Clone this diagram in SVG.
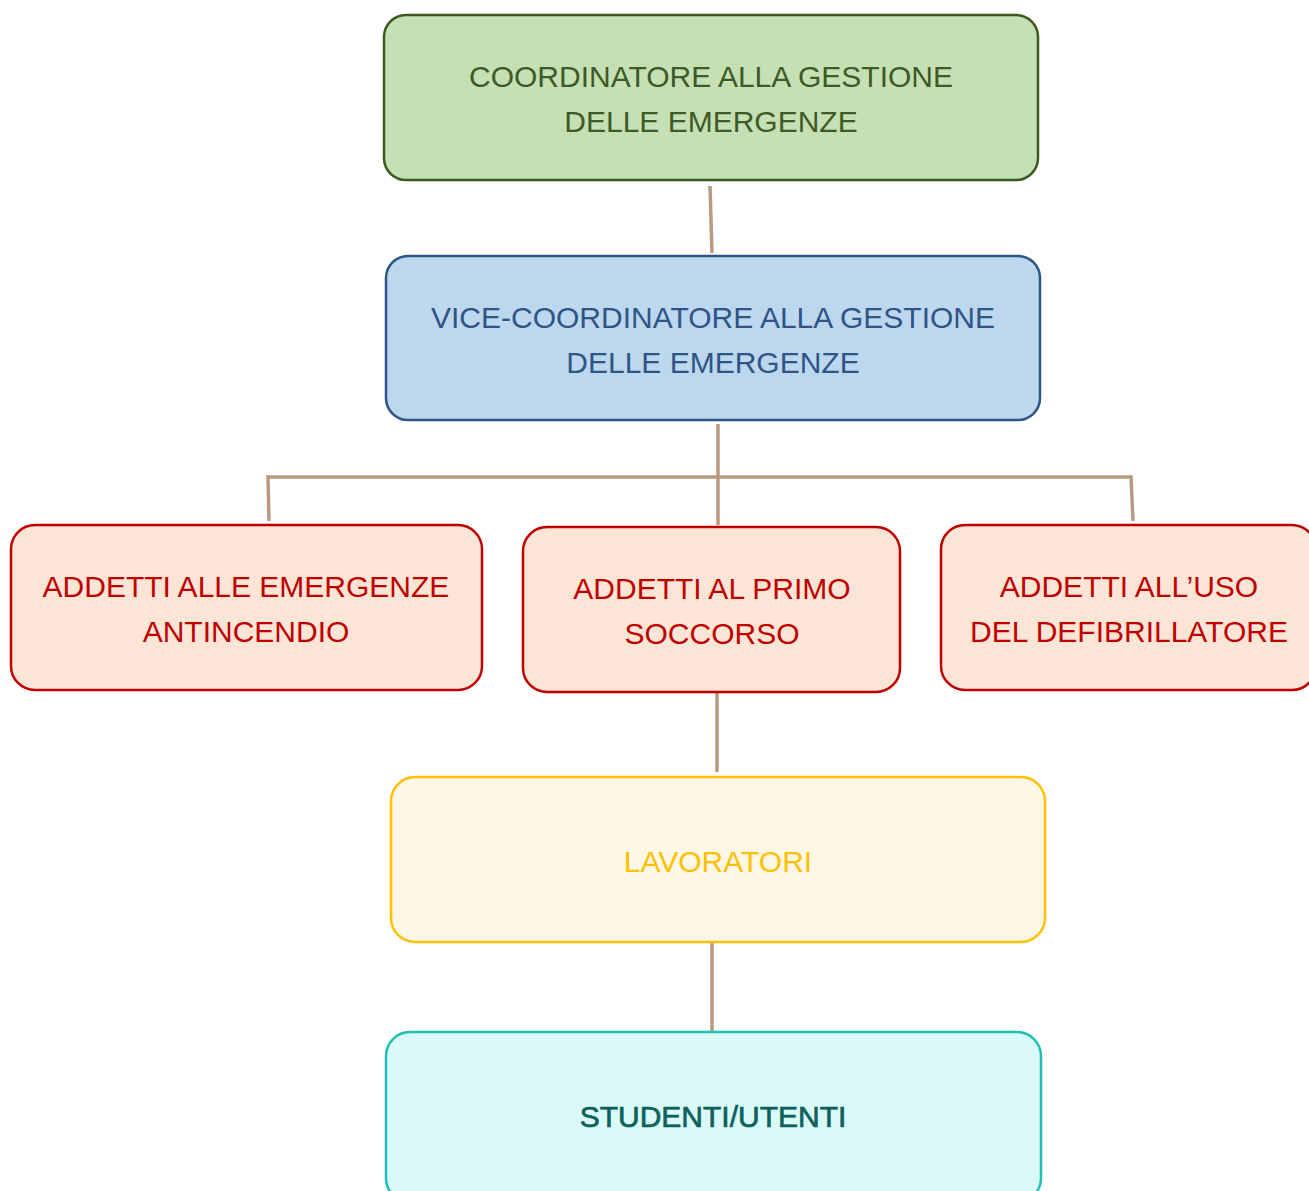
<svg xmlns="http://www.w3.org/2000/svg" width="1309" height="1191" viewBox="0 0 1309 1191">
<style>
.box{stroke-width:2.5}
.t{font-family:"Liberation Sans",Arial,sans-serif;font-size:30px;text-anchor:middle}
.c{stroke:#b89a80;stroke-width:3.5;fill:none}
</style>
<rect width="1309" height="1191" fill="#ffffff"/>
<g id="connectors">
<path class="c" d="M710 186 L712 253"/>
<path class="c" d="M718 424 L718 525"/>
<path class="c" d="M269 521 L268 477 L1131 477 L1133 521"/>
<path class="c" d="M717 692 L717 772"/>
<path class="c" d="M712 942 L712 1032"/>
</g>
<g id="n1">
<rect class="box" x="384" y="15" width="654" height="165" rx="22" fill="#c5e0b4" stroke="#3d5a1e"/>
<text class="t" fill="#3e5a27" x="711" y="87">COORDINATORE ALLA GESTIONE</text>
<text class="t" fill="#3e5a27" x="711" y="132">DELLE EMERGENZE</text>
</g>
<g id="n2">
<rect class="box" x="386" y="256" width="654" height="164" rx="22" fill="#bdd7ee" stroke="#2e5583"/>
<text class="t" fill="#2f5587" x="713" y="328">VICE-COORDINATORE ALLA GESTIONE</text>
<text class="t" fill="#2f5587" x="713" y="373">DELLE EMERGENZE</text>
</g>
<g id="n3">
<rect class="box" x="11" y="525" width="471" height="165" rx="24" fill="#fbe5d6" stroke="#c00000"/>
<text class="t" fill="#c00000" x="246" y="597">ADDETTI ALLE EMERGENZE</text>
<text class="t" fill="#c00000" x="246" y="642">ANTINCENDIO</text>
</g>
<g id="n4">
<rect class="box" x="523" y="527" width="377" height="165" rx="24" fill="#fbe5d6" stroke="#c00000"/>
<text class="t" fill="#c00000" x="712" y="599">ADDETTI AL PRIMO</text>
<text class="t" fill="#c00000" x="712" y="644">SOCCORSO</text>
</g>
<g id="n5">
<rect class="box" x="941" y="525" width="375" height="165" rx="24" fill="#fbe5d6" stroke="#c00000"/>
<text class="t" fill="#c00000" x="1129" y="597">ADDETTI ALL’USO</text>
<text class="t" fill="#c00000" x="1129" y="642">DEL DEFIBRILLATORE</text>
</g>
<g id="n6">
<rect class="box" x="391" y="777" width="654" height="165" rx="24" fill="#fff7e6" stroke="#ffc000"/>
<text class="t" fill="#ffc000" x="718" y="872">LAVORATORI</text>
</g>
<g id="n7">
<rect class="box" x="386" y="1032" width="655" height="170" rx="24" fill="#dafaf9" stroke="#1fbfb8"/>
<text class="t" fill="#0e625a" stroke="#0e625a" stroke-width="0.7" x="713" y="1127">STUDENTI/UTENTI</text>
</g>
</svg>
